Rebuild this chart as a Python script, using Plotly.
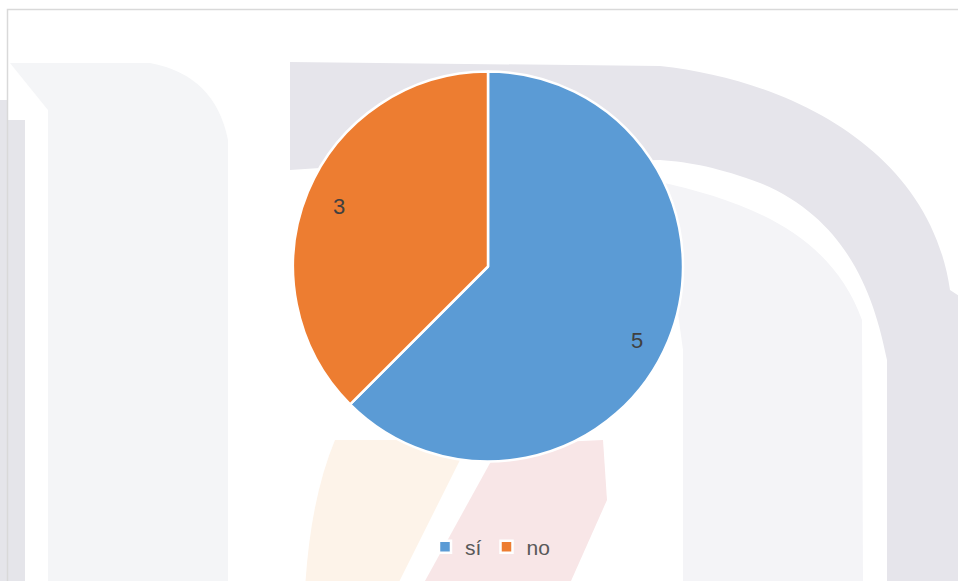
import math
import plotly.graph_objects as go

# ---- data ----
labels = ["sí", "no"]
values = [5, 3]
colors = ["#5B9BD5", "#ED7D31"]

W, H = 958, 581

def px(x):
    return x / W

def py(y):
    return 1 - y / H

def pt(x, y):
    return f"{px(x):.5f},{py(y):.5f}"

# pie domain (window pixels)
dx0, dx1 = 293, 683
dy0, dy1 = 71.5, 461.5

fig = go.Figure()
fig.add_trace(go.Pie(
    labels=labels,
    values=values,
    sort=False,
    direction="clockwise",
    rotation=0,
    marker=dict(colors=colors, line=dict(color="white", width=2.5)),
    textinfo="none",
    hoverinfo="label+value",
    domain=dict(x=[px(dx0), px(dx1)], y=[py(dy1), py(dy0)]),
    showlegend=True,
))

# data labels placed from the slice angles
cx, cy = (dx0 + dx1) / 2, (dy0 + dy1) / 2
r = min(dx1 - dx0, dy1 - dy0) / 2
total = sum(values)
annotations = []
cum = 0
for lab, v in zip(labels, values):
    mid = (cum + v / 2) / total * 2 * math.pi + math.radians(4)
    cum += v
    lx = cx + 0.855 * r * math.sin(mid)
    ly = cy - 0.855 * r * math.cos(mid)
    annotations.append(dict(
        x=px(lx), y=py(ly), xref="paper", yref="paper",
        text=str(v), showarrow=False,
        font=dict(size=22, color="#404040", family="Liberation Sans, Arial, sans-serif"),
    ))

# faint background watermark shapes + chart border
shapes = []
def path(d, color):
    shapes.append(dict(type="path", path=d, xref="paper", yref="paper",
                       fillcolor=color, line=dict(width=0), layer="below"))

# left thin strip
path(f"M{pt(0,100)} L{pt(8,100)} L{pt(8,120)} L{pt(25,120)} L{pt(25,590)} L{pt(0,590)} Z", "#e5e5ea")
# left light block with rounded top-right
path(f"M{pt(10,63)} L{pt(150,63)} Q{pt(215,75)} {pt(228,140)} L{pt(228,590)} L{pt(48,590)} L{pt(48,110)} Z", "#f4f5f7")
# big arch band (right)
path(f"M{pt(290,62)} L{pt(660,66)} C{pt(790,80)} {pt(930,150)} {pt(950,290)} L{pt(965,300)} L{pt(965,590)} L{pt(887,590)} "
     f"L{pt(887,360)} C{pt(875,300)} {pt(850,220)} {pt(760,183)} C{pt(720,168)} {pt(690,162)} {pt(660,160)} L{pt(320,168)} L{pt(290,170)} Z", "#e6e5eb")
# inner light arch
path(f"M{pt(660,182)} C{pt(740,200)} {pt(830,230)} {pt(862,320)} L{pt(863,590)} L{pt(683,590)} L{pt(683,350)} Z", "#f4f4f7")
# bottom cream band
path(f"M{pt(335,440)} L{pt(470,440)} L{pt(395,590)} L{pt(305,590)} Q{pt(310,500)} {pt(335,440)} Z", "#fdf3e9")
# bottom pink band
path(f"M{pt(500,445)} L{pt(603,440)} L{pt(607,500)} L{pt(567,590)} L{pt(420,590)} Z", "#f8e6e7")
# chart area border
shapes.append(dict(type="rect", xref="paper", yref="paper",
                   x0=px(7.5), y0=py(620), x1=px(1000), y1=py(9.5),
                   line=dict(color="#d9d9d9", width=1.5), fillcolor="rgba(0,0,0,0)", layer="below"))

fig.update_layout(
    width=W, height=H,
    margin=dict(l=0, r=0, t=0, b=0),
    paper_bgcolor="white",
    plot_bgcolor="white",
    shapes=shapes,
    annotations=annotations,
    legend=dict(
        orientation="h",
        x=px(490), xanchor="center",
        y=py(547), yanchor="middle",
        font=dict(size=21, color="#595959", family="Liberation Sans, Arial, sans-serif"),
        bgcolor="rgba(0,0,0,0)",
        itemwidth=30,
        traceorder="normal",
    ),
)

fig.write_html(
    "out.html",
    config={"displayModeBar": False},
    post_script="document.body.style.margin='0';document.body.style.overflow='hidden';",
)
